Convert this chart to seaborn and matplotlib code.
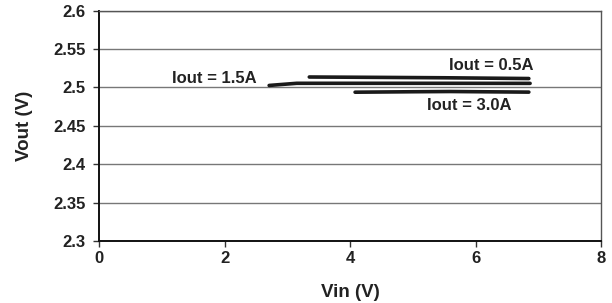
import pandas as pd
import numpy as np
import seaborn as sn
import matplotlib.pyplot as plt

# Vout vs Vin for three load currents
vin_05 = [3.35, 4.5, 5.5, 6.85]
vout_05 = [2.5135, 2.513, 2.5125, 2.5115]

vin_15 = [2.71, 3.15, 4.5, 5.5, 6.87]
vout_15 = [2.5025, 2.5053, 2.5053, 2.5053, 2.5052]

vin_30 = [4.08, 5.0, 5.6, 6.85]
vout_30 = [2.4937, 2.4943, 2.4946, 2.4938]

labels = ["Iout = 0.5A", "Iout = 1.5A", "Iout = 3.0A"]
label_pos = [(6.25, 2.529), (1.84, 2.512), (5.9, 2.477)]

df = pd.concat(
    [
        pd.DataFrame({"vin": vin_05, "vout": vout_05, "load": labels[0]}),
        pd.DataFrame({"vin": vin_15, "vout": vout_15, "load": labels[1]}),
        pd.DataFrame({"vin": vin_30, "vout": vout_30, "load": labels[2]}),
    ]
)

sn.set_style("white")
plt.rcParams["font.family"] = ["Liberation Sans", "DejaVu Sans"]
plt.rcParams["font.weight"] = "bold"

fig = plt.figure(figsize=(6.12, 3.03), dpi=100)
ax = fig.add_axes([0.162, 0.205, 0.82, 0.76])

sn.lineplot(
    df,
    x="vin",
    y="vout",
    units="load",
    estimator=None,
    sort=False,
    color="#1a1a1a",
    linewidth=2.6,
    ax=ax,
    legend=False,
)

for text, (x, y) in zip(labels, label_pos):
    ax.text(x, y, text, ha="center", va="center", fontsize=12, fontweight="bold",
            color="#222222")

ax.set_xlim(0, 8)
ax.set_ylim(2.3, 2.6)
ax.set_xticks([0, 2, 4, 6, 8])
ax.set_yticks([2.3, 2.35, 2.4, 2.45, 2.5, 2.55, 2.6])
ax.set_yticklabels(["2.3", "2.35", "2.4", "2.45", "2.5", "2.55", "2.6"])
ax.set_axisbelow(True)
ax.yaxis.grid(True, color="#777777", linewidth=1.0)
ax.xaxis.grid(False)

for side in ["left", "bottom"]:
    ax.spines[side].set_color("#111111")
    ax.spines[side].set_linewidth(1.4)
for side in ["top", "right"]:
    ax.spines[side].set_color("#555555")
    ax.spines[side].set_linewidth(1.0)

ax.tick_params(axis="both", direction="out", length=4, width=1, color="#333333",
               labelsize=12, left=True, bottom=True)
ax.tick_params(axis="y", pad=6)
ax.tick_params(axis="x", pad=3)
for lbl in ax.get_xticklabels() + ax.get_yticklabels():
    lbl.set_fontweight("bold")
    lbl.set_color("#222222")

ax.set_xlabel("Vin (V)", fontsize=13.5, fontweight="bold", labelpad=13, color="#222222")
ax.set_ylabel("Vout (V)", fontsize=13.5, fontweight="bold", labelpad=14, color="#222222")

plt.savefig("out.png", dpi=100)
